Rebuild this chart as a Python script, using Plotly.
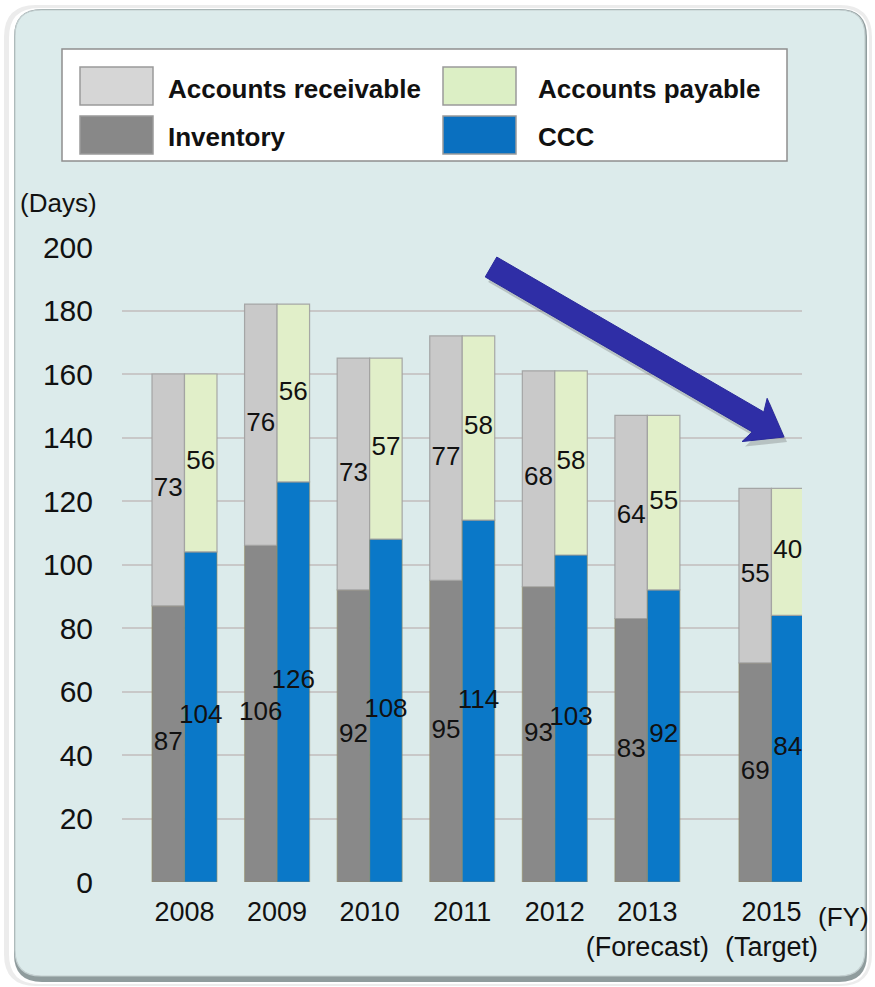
import math
import plotly.graph_objects as go

# ---- data -------------------------------------------------------------
years = ["2008", "2009", "2010", "2011", "2012", "2013", "2015"]
year_notes = ["", "", "", "", "", "(Forecast)", "(Target)"]
inventory = [87, 106, 92, 95, 93, 83, 69]
receivable = [73, 76, 73, 77, 68, 64, 55]
ccc = [104, 126, 108, 114, 103, 92, 84]
payable = [56, 56, 57, 58, 58, 55, 40]
y_ticks = [0, 20, 40, 60, 80, 100, 120, 140, 160, 180, 200]

names = {"ar": "Accounts receivable", "inv": "Inventory",
         "ap": "Accounts payable", "ccc": "CCC"}

# ---- layout constants ---------------------------------------------------
W, H = 875, 987
L, R, T, B = 122, 802, 247, 882          # plot area in pixels
# FY2014 is skipped, so the last group sits after a wider gap
slots = [0, 1, 2, 3, 4, 5, 6.34]
BW = 0.351                                # width of one bar in slot units
FONT = "Liberation Sans, Arial, Helvetica, sans-serif"

C_INV, C_AR, C_CCC, C_AP = "#898989", "#c9c9c9", "#0a78c8", "#e1efc9"


def fx(px):
    return (px - L) / (R - L)


def fy(py):
    return (B - py) / (B - T)


def rounded_rect(x0, y0, x1, y1, r):
    pts = [("M", (x0 + r, y0)), ("L", (x1 - r, y0)), ("Q", (x1, y0), (x1, y0 + r)),
           ("L", (x1, y1 - r)), ("Q", (x1, y1), (x1 - r, y1)), ("L", (x0 + r, y1)),
           ("Q", (x0, y1), (x0, y1 - r)), ("L", (x0, y0 + r)), ("Q", (x0, y0), (x0 + r, y0))]
    out = []
    for seg in pts:
        cmd, coords = seg[0], seg[1:]
        out.append(cmd + " ".join(f"{fx(a):.5f},{fy(b):.5f}" for a, b in coords))
    return " ".join(out) + " Z"


def polygon(points):
    return "M" + " L".join(f"{fx(a):.5f},{fy(b):.5f}" for a, b in points) + " Z"


fig = go.Figure()

left = [s - BW / 2 for s in slots]
right = [s + BW / 2 for s in slots]
edge = dict(color="rgba(150,140,100,0.55)", width=1.2)
edge_top = dict(color="rgba(160,160,160,0.9)", width=1.2)

fig.add_trace(go.Bar(x=slots, y=inventory, width=BW, offset=-BW, name=names["inv"],
                     marker=dict(color=C_INV, line=edge)))
fig.add_trace(go.Bar(x=slots, y=receivable, base=inventory, width=BW, offset=-BW,
                     name=names["ar"], marker=dict(color=C_AR, line=edge_top)))
fig.add_trace(go.Bar(x=slots, y=ccc, width=BW, offset=0, name=names["ccc"],
                     marker=dict(color=C_CCC, line=edge)))
fig.add_trace(go.Bar(x=slots, y=payable, base=ccc, width=BW, offset=0,
                     name=names["ap"], marker=dict(color=C_AP, line=edge_top)))

# value labels centred in each segment
lab_x = left + left + right + right
lab_y = ([v / 2 for v in inventory]
         + [i + v / 2 for i, v in zip(inventory, receivable)]
         + [v / 2 for v in ccc]
         + [c + v / 2 for c, v in zip(ccc, payable)])
lab_t = [str(v) for v in inventory + receivable + ccc + payable]
fig.add_trace(go.Scatter(x=lab_x, y=lab_y, text=lab_t, mode="text",
                         textfont=dict(family=FONT, size=26, color="#111111"),
                         cliponaxis=False, showlegend=False, hoverinfo="skip"))

shapes = []
# rounded panel behind the chart, with a soft outer edge
shapes.append(dict(type="path", xref="paper", yref="paper", layer="below",
                   path=rounded_rect(4, 5, 872, 986, 32),
                   fillcolor="#ececec", line=dict(width=0)))
shapes.append(dict(type="path", xref="paper", yref="paper", layer="below",
                   path=rounded_rect(9, 8, 869, 984, 30),
                   fillcolor="white", line=dict(width=0)))
shapes.append(dict(type="path", xref="paper", yref="paper", layer="below",
                   path=rounded_rect(14, 9, 867, 982, 28),
                   fillcolor="#8f9c9d", line=dict(width=0)))
shapes.append(dict(type="path", xref="paper", yref="paper", layer="below",
                   path=rounded_rect(15, 10, 865, 976, 26),
                   fillcolor="#dcebeb", line=dict(color="#c3cfd0", width=1.2)))

# legend box
shapes.append(dict(type="rect", xref="paper", yref="paper", layer="below",
                   x0=fx(62), x1=fx(787), y0=fy(161), y1=fy(49),
                   fillcolor="white", line=dict(color="#8f8f8f", width=1.5)))
swatches = [(80, 67, "#d6d6d6"), (80, 116, "#888888"),
            (443, 67, "#dcefc5"), (443, 116, "#0a70c0")]
for sx, sy, col in swatches:
    shapes.append(dict(type="rect", xref="paper", yref="paper", layer="below",
                       x0=fx(sx), x1=fx(sx + 73), y0=fy(sy + 38), y1=fy(sy),
                       fillcolor=col, line=dict(color="#9a9a9a", width=1.5)))

# downward trend arrow
sx0, sy0 = 491, 267
tx, ty = 784, 437
dx, dy = tx - sx0, ty - sy0
ln = math.hypot(dx, dy)
ux, uy = dx / ln, dy / ln
nx, ny = -uy, ux
hw, hl, hh = 11.5, 30, 25


def arrow_pts(ox, oy):
    bx, by = tx - hl * ux, ty - hl * uy
    return [(sx0 + nx * hw + ox, sy0 + ny * hw + oy),
            (bx + nx * hw + ox, by + ny * hw + oy),
            (bx + nx * hh - 4 * ux + ox, by + ny * hh - 4 * uy + oy),
            (tx + ox, ty + oy),
            (bx - nx * hh - 4 * ux + ox, by - ny * hh - 4 * uy + oy),
            (bx - nx * hw + ox, by - ny * hw + oy),
            (sx0 - nx * hw + ox, sy0 - ny * hw + oy)]


shapes.append(dict(type="path", xref="paper", yref="paper", layer="above",
                   path=polygon(arrow_pts(3, 5)), fillcolor="rgba(90,90,90,0.28)",
                   line=dict(width=0)))
shapes.append(dict(type="path", xref="paper", yref="paper", layer="above",
                   path=polygon(arrow_pts(0, 0)), fillcolor="#2f2ea6",
                   line=dict(color="#2a2a9c", width=1)))

annotations = []
for x, y, key in [(166, 89, "ar"), (166, 137, "inv"), (536, 89, "ap"), (536, 137, "ccc")]:
    annotations.append(dict(xref="paper", yref="paper", x=fx(x), y=fy(y),
                            text=f"<b>{names[key]}</b>", showarrow=False,
                            xanchor="left", yanchor="middle",
                            font=dict(family=FONT, size=26, color="#111111")))
annotations.append(dict(xref="paper", yref="paper", x=fx(58), y=fy(203), text="(Days)",
                        showarrow=False, xanchor="center", yanchor="middle",
                        font=dict(family=FONT, size=26, color="#111111")))
annotations.append(dict(xref="paper", yref="paper", x=fx(843), y=fy(917), text="(FY)",
                        showarrow=False, xanchor="center", yanchor="middle",
                        font=dict(family=FONT, size=26, color="#111111")))

tick_text = [y if not n else f"{y}<br>{n}" for y, n in zip(years, year_notes)]

fig.update_layout(
    width=W, height=H,
    margin=dict(l=L, r=W - R, t=T, b=H - B, pad=0),
    paper_bgcolor="white", plot_bgcolor="white",
    barmode="overlay", showlegend=False,
    shapes=shapes, annotations=annotations,
    font=dict(family=FONT, color="#111111"),
    xaxis=dict(range=[-0.675, 6.67], tickvals=slots, ticktext=tick_text,
               tickangle=0, automargin=False,
               showgrid=False, zeroline=False, showline=False, ticks="",
               ticklabelstandoff=11, tickfont=dict(family=FONT, size=27, color="#111111")),
    yaxis=dict(range=[0, 200], tickvals=y_ticks, showgrid=True, gridcolor="#c8c8c8",
               gridwidth=1.5, zeroline=False, showline=False, ticks="", automargin=False,
               ticklabelstandoff=28, tickfont=dict(family=FONT, size=30, color="#111111")),
)

fig.write_html("out.html")
